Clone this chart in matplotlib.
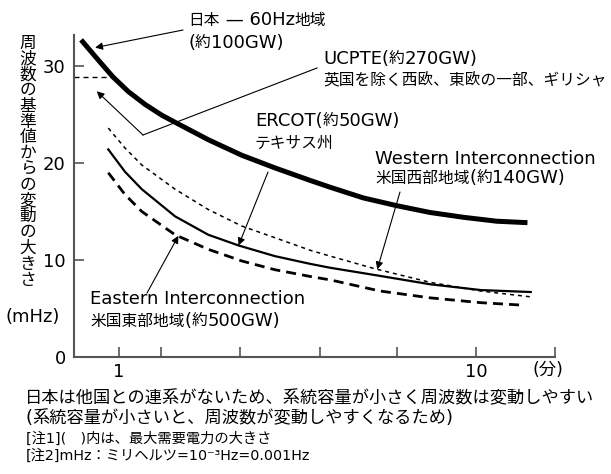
import matplotlib
matplotlib.use('Agg')
import matplotlib.pyplot as plt
from matplotlib.lines import Line2D
from matplotlib.offsetbox import TextArea, HPacker, AnnotationBbox

plt.rcParams['font.family'] = ['DejaVu Sans', 'Noto Sans CJK JP']

# ---------------- data ----------------
jp_x = [0.783, 0.857, 0.96, 1.062, 1.183, 1.317, 1.435, 1.778, 2.206, 2.73, 3.43, 3.90,
        4.83, 5.99, 7.42, 9.22, 11.4, 13.9]
jp_y = [32.7, 31.0, 28.9, 27.36, 26.04, 24.93, 24.2, 22.4, 20.8, 19.5, 18.2, 17.5,
        16.4, 15.6, 14.9, 14.4, 14.0, 13.85]

ucpte_x = [0.933, 1.039, 1.158, 1.435, 1.778, 2.206, 2.73, 3.43, 3.90, 5.2, 7.42, 10.3, 14.2]
ucpte_y = [23.6, 21.55, 19.8, 17.3, 15.2, 13.5, 12.3, 11.0, 10.4, 9.1, 7.7, 6.8, 6.2]

ercot_x = [0.933, 1.039, 1.158, 1.435, 1.778, 2.16, 2.73, 3.43, 3.90, 5.38, 7.42, 10.3, 14.2]
ercot_y = [21.4, 19.1, 17.3, 14.5, 12.6, 11.5, 10.4, 9.6, 9.2, 8.36, 7.5, 6.9, 6.7]

east_x = [0.933, 1.039, 1.158, 1.435, 1.778, 2.206, 2.73, 3.43, 3.90, 5.38, 7.42, 10.3, 13.4]
east_y = [19.0, 16.75, 15.0, 12.6, 11.1, 9.9, 9.0, 8.3, 7.95, 6.8, 6.1, 5.6, 5.35]

jp_ref_y = 28.85          # dashed reference level for Japan
x_min, x_max = 0.748, 16.6
y_min, y_max = 0, 33.2

x_ticks = [1, 1.31, 2.18, 3.64, 5.98, 10, 16.6]
x_ticklabels = ['1', '', '', '', '', '10', '']
y_ticks = [0, 10, 20, 30]
y_ticklabels = ['0', '10', '20', '30']

ylabel_text = "周波数の基準値からの変動の大きさ"
ylabel_unit = "(mHz)"
xlabel_unit = "(分)"

lbl_jp = ["日本 — 60Hz地域", "(約100GW)"]
lbl_ucpte = ["UCPTE(約270GW)", "英国を除く西欧、東欧の一部、ギリシャ"]
lbl_ercot = ["ERCOT(約50GW)", "テキサス州"]
lbl_west = ["Western Interconnection", "米国西部地域(約140GW)"]
lbl_east = ["Eastern Interconnection", "米国東部地域(約500GW)"]

bottom_main = ["日本は他国との連系がないため、系統容量が小さく周波数は変動しやすい",
               "(系統容量が小さいと、周波数が変動しやすくなるため)"]
bottom_notes = ["[注1](\u3000)内は、最大需要電力の大きさ",
                "[注2]mHz：ミリヘルツ=10⁻³Hz=0.001Hz"]

# arrow tips (data coordinates on curves)
tip_jp = (0.857, 31.9)
tip_ucpte = (0.866, 27.4)
tip_ercot = (2.16, 11.5)
tip_west = (5.28, 9.04)
tip_east = (1.466, 12.5)

# ---------------- figure ----------------
W, H = 611, 474
fig = plt.figure(figsize=(W / 100, H / 100), dpi=100)


def P(x, y):
    return (x / W, 1 - y / H)


ax = fig.add_axes([74 / W, 1 - 357 / H, (555 - 74) / W, (357 - 35) / H])
ax.set_xscale('log')
ax.set_xlim(x_min, x_max)
ax.set_ylim(y_min, y_max)

ax.plot(jp_x, jp_y, color='black', lw=3.6, solid_capstyle='butt',
        solid_joinstyle='round', clip_on=False)
ax.plot(ucpte_x, ucpte_y, color='black', lw=1.1, ls=(0, (2.6, 2.6)))
ax.plot(ercot_x, ercot_y, color='black', lw=1.6, solid_joinstyle='round')
ax.plot(east_x, east_y, color='black', lw=2.0, ls=(0, (3.6, 2.2)))
ax.plot([x_min, jp_x[2]], [jp_ref_y, jp_ref_y], color='black', lw=1.0, ls=(0, (3.6, 2.9)))

for s in ['top', 'right']:
    ax.spines[s].set_visible(False)
for s in ['left', 'bottom']:
    ax.spines[s].set_color('#555555')
    ax.spines[s].set_linewidth(1.5)

ax.minorticks_off()
ax.set_xticks(x_ticks)
ax.set_xticklabels(x_ticklabels)
ax.set_yticks(y_ticks)
ax.set_yticklabels(y_ticklabels)
ax.tick_params(axis='both', direction='in', length=7, width=1.2, color='#555555',
               labelsize=13, labelcolor='black')
ax.tick_params(axis='y', pad=6)
ax.tick_params(axis='x', pad=4.5)


def is_cjk(ch):
    return ord(ch) >= 0x2E80


def mixed(x, y, s, cjk_fs, lat_fs):
    runs = []
    for ch in s:
        c = is_cjk(ch)
        if runs and runs[-1][0] == c:
            runs[-1][1] += ch
        else:
            runs.append([c, ch])
    kids = []
    for c, t in runs:
        if c:
            tp = dict(fontsize=cjk_fs, family=['Noto Sans CJK JP'], color='black')
        else:
            tp = dict(fontsize=lat_fs, family=['DejaVu Sans', 'Noto Sans CJK JP'], color='black')
        kids.append(TextArea(t, textprops=tp))
    box = HPacker(children=kids, align='baseline', pad=0, sep=0)
    ab = AnnotationBbox(box, P(x, y), xycoords='figure fraction',
                        box_alignment=(0, 0.5), frameon=False, pad=0)
    fig.add_artist(ab)


# y label: vertical stacked characters
for i, ch in enumerate(ylabel_text):
    fig.text(*P(28, 43 + i * 15.8), ch, fontsize=12, ha='center', va='center',
             family=['Noto Sans CJK JP'])
fig.text(*P(33, 317), ylabel_unit, fontsize=13, ha='center', va='center')
fig.text(*P(533, 370), xlabel_unit, fontsize=12.5, ha='left', va='center')

CJK_FS, LAT_FS = 11.3, 13


def label(lines, x, ys):
    for t, y in zip(lines, ys):
        mixed(x, y, t, CJK_FS, LAT_FS)


label(lbl_jp, 188, [20, 43])
label(lbl_ucpte, 323, [59, 80])
label(lbl_ercot, 255, [121, 143])
label(lbl_west, 375, [159, 178])
label(lbl_east, 90, [299, 321])

aprops = dict(arrowstyle='-|>', lw=0.8, color='black', mutation_scale=11,
              shrinkA=0, shrinkB=0)


def arrow(tip, start):
    ax.annotate('', xy=tip, xycoords='data', xytext=P(*start),
                textcoords='figure fraction', arrowprops=aprops,
                annotation_clip=False)


arrow(tip_jp, (183, 30))
fig.add_artist(Line2D([317 / W, 143 / W], [1 - 68 / H, 1 - 135 / H], lw=0.8, color='black'))
arrow(tip_ucpte, (143, 135))
arrow(tip_ercot, (268, 172))
arrow(tip_west, (400, 192))
arrow(tip_east, (147, 293))

# bottom texts
mixed(25, 398, bottom_main[0], 12.4, 12.4)
mixed(25, 418, bottom_main[1], 12.4, 13)
fig.text(*P(26, 439), bottom_notes[0], fontsize=10.3, ha='left', va='center')
fig.text(*P(26, 456), bottom_notes[1], fontsize=10.3, ha='left', va='center')

fig.savefig('out.png', dpi=100)
